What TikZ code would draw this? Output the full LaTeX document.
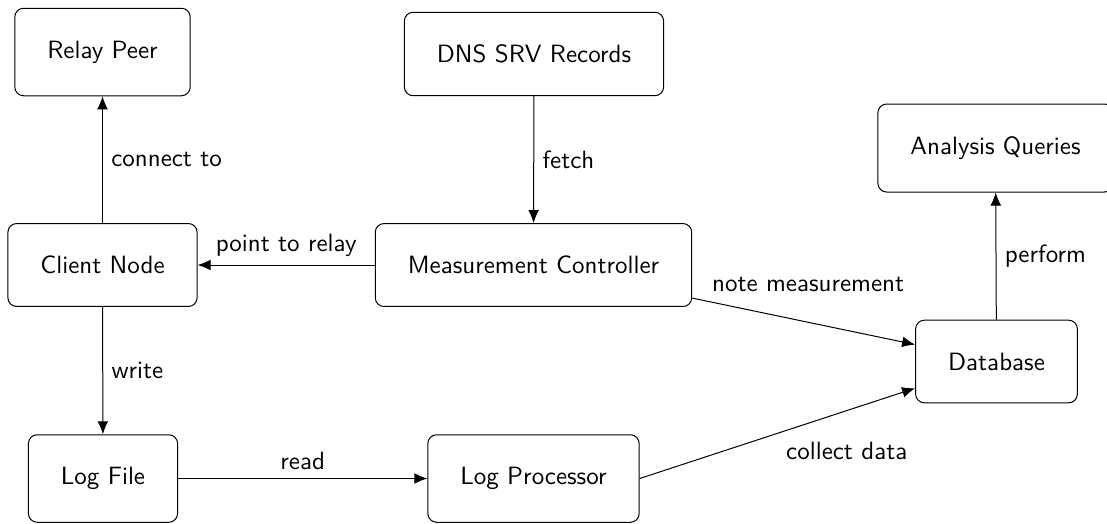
\documentclass[tikz,border=0pt]{standalone}
\usetikzlibrary{arrows.meta}
\renewcommand{\familydefault}{\sfdefault}
\begin{document}
\begin{tikzpicture}[x=0.4pt,y=-0.4pt,
  box/.style={draw, rounded corners=3.5pt, inner sep=13pt, font=\sffamily},
  flow/.style={-{Latex[length=5.2pt,width=4.3pt]}},
  lbl/.style={font=\sffamily}]
  \useasboundingbox (0,0) rectangle (1107,523);
  % components
  \node[box] (relay)    at (102.5,52)  {Relay Peer};
  \node[box] (client)   at (102.5,265) {Client Node};
  \node[box] (logfile)  at (103,478.5) {Log File};
  \node[box] (dns)      at (534,54)    {DNS SRV Records};
  \node[box] (ctrl)     at (533.5,265) {Measurement Controller};
  \node[box] (logproc)  at (533.5,478.5) {Log Processor};
  \node[box] (queries)  at (995.5,148) {Analysis Queries};
  \node[box] (db)       at (996.5,361.5) {Database};
  % data flow
  \draw[flow] (client) -- node[lbl, right] {connect to} (relay);
  \draw[flow] (dns) -- node[lbl, right] {fetch} (ctrl);
  \draw[flow] (ctrl) -- node[lbl, above] {point to relay} (client);
  \draw[flow] (client) -- node[lbl, right] {write} (logfile);
  \draw[flow] (logfile) -- node[lbl, above] {read} (logproc);
  \draw[flow] (ctrl) -- node[lbl, pos=0.05, above right] {note measurement} (db);
  \draw[flow] (logproc.east) -- node[lbl, below right] {collect data} (db);
  \draw[flow] (db) -- node[lbl, right] {perform} (queries);
\end{tikzpicture}
\end{document}
